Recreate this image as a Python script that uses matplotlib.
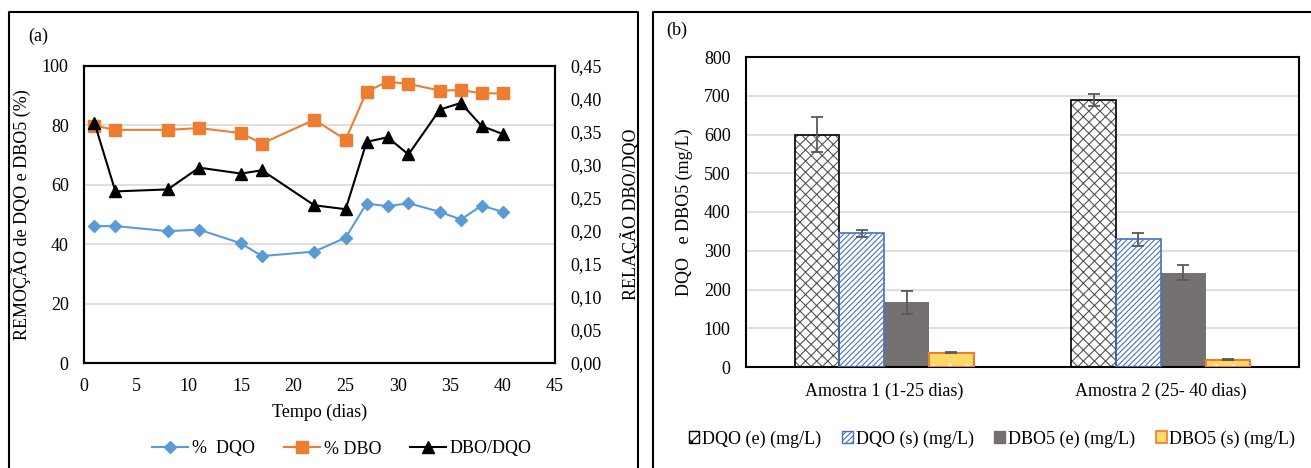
import matplotlib
matplotlib.use("Agg")
import matplotlib.pyplot as plt
import numpy as np
from matplotlib.patches import Patch
from matplotlib.lines import Line2D

plt.rcParams['font.family'] = ['Liberation Serif', 'DejaVu Serif']
plt.rcParams['hatch.linewidth'] = 0.8

# ---- Panel (a) data ----
days = [1, 3, 8, 11, 15, 17, 22, 25, 27, 29, 31, 34, 36, 38, 40]
rem_dqo = [46.1, 46.1, 44.4, 44.9, 40.3, 36.0, 37.5, 42.2, 53.7, 52.8, 53.8, 50.9, 48.3, 53.0, 50.9]
rem_dbo = [79.9, 78.5, 78.5, 79.1, 77.4, 73.9, 81.9, 75.2, 91.4, 94.7, 94.0, 91.7, 91.9, 90.8, 90.8]
ratio = [0.364, 0.260, 0.263, 0.296, 0.287, 0.292, 0.239, 0.233, 0.335, 0.342, 0.316, 0.384, 0.394, 0.359, 0.347]
left_ticks = [0, 20, 40, 60, 80, 100]
right_ticks = [0.00, 0.05, 0.10, 0.15, 0.20, 0.25, 0.30, 0.35, 0.40, 0.45]
x_ticks = [0, 5, 10, 15, 20, 25, 30, 35, 40, 45]

# ---- Panel (b) data ----
samples = ['Amostra 1 (1-25 dias)', 'Amostra 2 (25- 40 dias)']
series_names = ['DQO (e) (mg/L)', 'DQO (s) (mg/L)', 'DBO5 (e) (mg/L)', 'DBO5 (s) (mg/L)']
dqo_e = [600, 689]
dqo_e_err = [45, 16]
dqo_s = [345, 330]
dqo_s_err = [9, 17]
dbo_e = [167, 243]
dbo_e_err = [29, 19]
dbo_s = [37, 19]
dbo_s_err = [2, 1.5]
b_ticks = [0, 100, 200, 300, 400, 500, 600, 700, 800]

W, H = 1311, 468
fig = plt.figure(figsize=(W / 100, H / 100), dpi=100)

FS = 13

# Panel frames
fig.add_artist(Line2D([9 / W, 9 / W, 638 / W, 638 / W], [0, 1 - 12 / H, 1 - 12 / H, 0],
                      transform=fig.transFigure, color='black', lw=1.5))
fig.add_artist(Line2D([653 / W, 653 / W, 1.0], [0, 1 - 12 / H, 1 - 12 / H],
                      transform=fig.transFigure, color='black', lw=1.5))

# ---------- Panel (a) ----------
ax = fig.add_axes([84 / W, 1 - 363 / H, (555 - 84) / W, (363 - 66) / H])
ax.set_xlim(0, 45)
ax.set_ylim(0, 100)
ax.set_xticks(x_ticks)
ax.set_yticks(left_ticks)
ax.yaxis.grid(True, color='#d9d9d9', lw=1.2)
ax.set_axisbelow(True)
for s in ax.spines.values():
    s.set_linewidth(1.5)
ax.tick_params(axis='y', length=0, labelsize=FS, pad=11)
ax.tick_params(axis='x', length=0, labelsize=FS, pad=11)
ax.set_xlabel('Tempo (dias)', fontsize=FS, labelpad=6)
ax.set_ylabel('REMOÇÃO de DQO e DBO5 (%)', fontsize=FS, labelpad=8)

l1, = ax.plot(days, rem_dqo, color='#5B9BD5', marker='D', ms=6.5, lw=1.5, label='%  DQO')
l2, = ax.plot(days, rem_dbo, color='#ED7D31', marker='s', ms=8, lw=1.5, label='% DBO')
ax2 = ax.twinx()
ax2.set_ylim(0, 0.45)
ax2.set_yticks(right_ticks)
ax2.set_yticklabels([f'{v:.2f}'.replace('.', ',') for v in right_ticks])
ax2.tick_params(length=0, labelsize=FS, pad=11)
for s in ax2.spines.values():
    s.set_linewidth(1.5)
ax2.set_ylabel('RELAÇÃO DBO/DQO', fontsize=FS, labelpad=13)
l3, = ax2.plot(days, ratio, color='black', marker='^', ms=8, lw=1.5, label='DBO/DQO')

fig.text(28 / W, 1 - 36 / H, '(a)', fontsize=FS, va='center', ha='left')
fig.legend(handles=[l1, l2, l3], loc='center', bbox_to_anchor=(342 / W, 1 - 449 / H),
           ncol=3, frameon=False, fontsize=FS, handlelength=2.0, columnspacing=1.6,
           handletextpad=0.2)

# ---------- Panel (b) ----------
bx = fig.add_axes([746 / W, 1 - 367 / H, (1299 - 746) / W, (367 - 57) / H])
bx.set_xlim(-0.5, 1.5)
bx.set_ylim(0, 800)
bx.set_yticks(b_ticks)
bx.yaxis.grid(True, color='#d9d9d9', lw=1.2)
bx.set_axisbelow(True)
for s in bx.spines.values():
    s.set_linewidth(1.5)
bx.tick_params(axis='y', length=0, labelsize=FS, pad=11)
bx.tick_params(axis='x', length=0, labelsize=FS, pad=11)
bx.set_ylabel('DQO   e DBO5 (mg/L)', fontsize=FS, labelpad=8)

x = np.arange(len(samples))
bw = 0.162
offs = [-1.5 * bw, -0.5 * bw, 0.5 * bw, 1.5 * bw]
errkw = dict(ecolor='#595959', capsize=4, elinewidth=1.3, capthick=1.3)

# DQO (e): cross hatch
bx.bar(x + offs[0], dqo_e, bw, color='white', edgecolor='#555555', hatch='xxx', lw=0, zorder=2)
bx.bar(x + offs[0], dqo_e, bw, fill=False, edgecolor='black', lw=1.2, zorder=3)
bx.errorbar(x + offs[0], dqo_e, yerr=dqo_e_err, fmt='none', zorder=4, **errkw)
# DQO (s): blue diagonal
bx.bar(x + offs[1], dqo_s, bw, color='white', edgecolor='#4472C4', hatch='//////', lw=0, zorder=2)
bx.bar(x + offs[1], dqo_s, bw, fill=False, edgecolor='#4472C4', lw=1.2, zorder=3)
bx.errorbar(x + offs[1], dqo_s, yerr=dqo_s_err, fmt='none', zorder=4, **errkw)
# DBO5 (e): solid grey
bx.bar(x + offs[2], dbo_e, bw, color='#767171', lw=0, zorder=2)
bx.errorbar(x + offs[2], dbo_e, yerr=dbo_e_err, fmt='none', zorder=4, **errkw)
# DBO5 (s): yellow dotted
bx.bar(x + offs[3], dbo_s, bw, color='#FFD966', edgecolor='white', hatch='.', lw=0, zorder=2)
bx.bar(x + offs[3], dbo_s, bw, fill=False, edgecolor='#ED7D31', lw=1.5, zorder=3)
bx.errorbar(x + offs[3], dbo_s, yerr=dbo_s_err, fmt='none', zorder=4, **errkw)

bx.set_xticks(x)
bx.set_xticklabels(samples)

fig.text(666 / W, 1 - 30 / H, '(b)', fontsize=FS, va='center', ha='left')

handles_b = [
    Patch(facecolor='white', edgecolor='black', hatch='xx', lw=1.0),
    Patch(facecolor='white', edgecolor='#4472C4', hatch='//////', lw=1.0),
    Patch(facecolor='#767171', edgecolor='#767171', lw=1.0),
    Patch(facecolor='#FFD966', edgecolor='#ED7D31', lw=1.2),
]
fig.legend(handles=handles_b, labels=series_names, loc='center',
           bbox_to_anchor=(992 / W, 1 - 439 / H), ncol=4, frameon=False, fontsize=FS,
           handlelength=0.6, handleheight=0.6, handletextpad=0.15, columnspacing=1.15)

fig.savefig('out.png', dpi=100)
